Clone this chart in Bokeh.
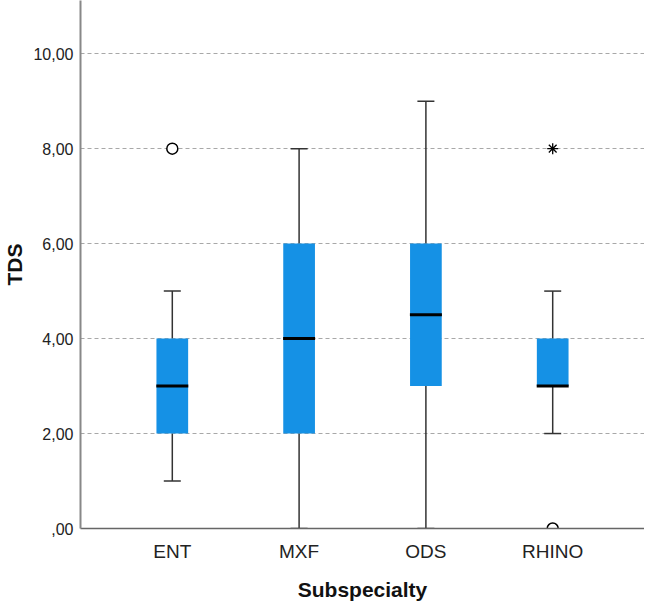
from bokeh.plotting import figure
from bokeh.models import FactorRange, Range1d, FixedTicker, ColumnDataSource
from bokeh.embed import file_html
from bokeh.resources import INLINE

groups = ["ENT", "MXF", "ODS", "RHINO"]
whisker_low = [1, 0, 0, 2]
q1 = [2, 2, 3, 3]
median = [3, 4, 4.5, 3]
q3 = [4, 6, 6, 4]
whisker_high = [5, 8, 9, 5]

outlier_groups = ["ENT", "RHINO"]
outlier_values = [8, 0]
extreme_groups = ["RHINO"]
extreme_values = [8]

y_ticks = [0, 2, 4, 6, 8, 10]
y_tick_labels = [",00", "2,00", "4,00", "6,00", "8,00", "10,00"]

FONT = "Liberation Sans"
BOX_COLOR = "#1591e5"
LINE_COLOR = "#333333"

src = ColumnDataSource(dict(g=groups, lo=whisker_low, q1=q1, med=median, q3=q3, hi=whisker_high))

p = figure(
    x_range=FactorRange(factors=groups, range_padding=0.112),
    y_range=Range1d(0, 11.12),
    frame_width=564, frame_height=528,
    min_border_left=71, min_border_right=0, min_border_top=0, min_border_bottom=70,
    output_backend="svg", toolbar_location=None,
)

# whiskers
p.segment(x0="g", y0="lo", x1="g", y1="q1", source=src, line_color=LINE_COLOR, line_width=1.5)
p.segment(x0="g", y0="q3", x1="g", y1="hi", source=src, line_color=LINE_COLOR, line_width=1.5)
p.scatter(x="g", y="lo", source=src, marker="dash", size=17, line_color=LINE_COLOR, line_width=1.5)
p.scatter(x="g", y="hi", source=src, marker="dash", size=17, line_color=LINE_COLOR, line_width=1.5)

# boxes
p.vbar(x="g", bottom="q1", top="q3", width=0.25, source=src, fill_color=BOX_COLOR, line_color=None)
p.scatter(x="g", y="med", source=src, marker="dash", size=32, line_color="black", line_width=3)

# outliers
p.scatter(x=outlier_groups, y=outlier_values, marker="circle", size=11,
          fill_color="white", line_color="black", line_width=1.5)
p.scatter(x=extreme_groups, y=extreme_values, marker="asterisk", size=11,
          line_color="black", line_width=1.3)

# grid
p.xgrid.grid_line_color = None
p.ygrid.ticker = FixedTicker(ticks=y_ticks[1:])
p.ygrid.grid_line_color = "#a8a8a8"
p.ygrid.grid_line_dash = "4 3"
p.ygrid.grid_line_width = 1.2
p.outline_line_color = None

# y axis
p.yaxis.ticker = FixedTicker(ticks=y_ticks)
p.yaxis.major_label_overrides = {t: l for t, l in zip(y_ticks, y_tick_labels)}
p.yaxis.axis_label = "TDS"
p.yaxis.axis_line_color = "#888888"
p.yaxis.axis_line_width = 2
p.yaxis.major_tick_line_color = None
p.yaxis.minor_tick_line_color = None
p.yaxis.major_tick_out = 0
p.yaxis.major_label_standoff = 7
p.yaxis.axis_label_standoff = 4
p.yaxis.major_label_text_font = FONT
p.yaxis.major_label_text_font_size = "16px"
p.yaxis.major_label_text_color = "#222222"
p.yaxis.axis_label_text_font = FONT
p.yaxis.axis_label_text_font_size = "21px"
p.yaxis.axis_label_text_font_style = "bold"
p.yaxis.axis_label_text_color = "#111111"

# x axis
p.xaxis.axis_label = "Subspecialty"
p.xaxis.axis_line_color = "#666666"
p.xaxis.axis_line_width = 1.5
p.xaxis.major_tick_line_color = None
p.xaxis.major_tick_out = 0
p.xaxis.major_label_standoff = 12
p.xaxis.axis_label_standoff = 13
p.xaxis.major_label_text_font = FONT
p.xaxis.major_label_text_font_size = "19px"
p.xaxis.major_label_text_color = "#222222"
p.xaxis.axis_label_text_font = FONT
p.xaxis.axis_label_text_font_size = "21px"
p.xaxis.axis_label_text_font_style = "bold"
p.xaxis.axis_label_text_color = "#111111"

open("out.html", "w").write(file_html(p, INLINE))
